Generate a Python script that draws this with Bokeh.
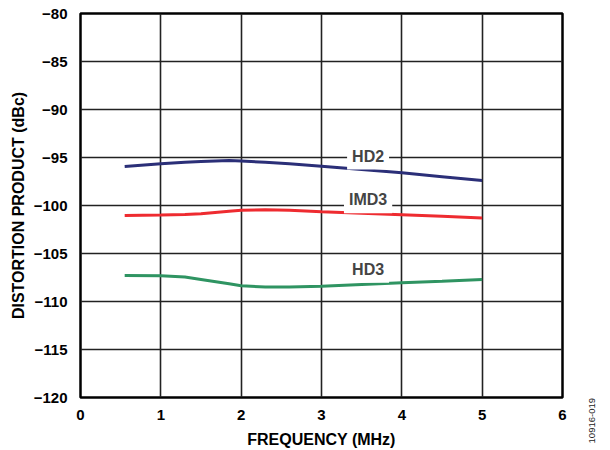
from bokeh.plotting import figure
from bokeh.models import Label, FixedTicker, Range1d, Div
from bokeh.layouts import row
from bokeh.embed import file_html
from bokeh.resources import INLINE

freq_mhz = [0.55, 1.0, 1.3, 1.5, 1.85, 2.0, 2.3, 2.6, 3.0, 3.5, 4.0, 4.5, 5.0]
hd2 = [-95.94, -95.66, -95.5, -95.42, -95.32, -95.36, -95.5, -95.66, -95.9, -96.25, -96.6, -97.0, -97.4]
imd3 = [-101.04, -101.0, -100.95, -100.85, -100.6, -100.5, -100.45, -100.5, -100.65, -100.8, -100.97, -101.13, -101.3]
hd3 = [-107.3, -107.32, -107.45, -107.7, -108.15, -108.35, -108.5, -108.5, -108.4, -108.22, -108.05, -107.88, -107.7]

x_ticks = [0, 1, 2, 3, 4, 5, 6]
y_ticks = [-120, -115, -110, -105, -100, -95, -90, -85, -80]
y_tick_labels = ["\u2212120", "\u2212115", "\u2212110", "\u2212105", "\u2212100", "\u221295", "\u221290", "\u221285", "\u221280"]

series_names = ["HD2", "IMD3", "HD3"]
series_colors = ["#2B2F78", "#EE2B30", "#2F9462"]
label_pos = [(3.58, -94.85), (3.58, -99.4), (3.58, -106.65)]

figure_id = "10916-019"

FONT = "Liberation Sans"

p = figure(width=580, height=450, output_backend="svg", toolbar_location=None,
           x_range=Range1d(0, 6), y_range=Range1d(-120, -80),
           min_border_left=80, min_border_right=18, min_border_top=13, min_border_bottom=52)

p.outline_line_color = "black"
p.outline_line_width = 2.5

for ax in (p.xaxis, p.yaxis):
    ax.axis_line_color = None
    ax.major_tick_line_color = None
    ax.minor_tick_line_color = None
    ax.major_label_text_font = FONT
    ax.major_label_text_font_style = "bold"
    ax.major_label_text_font_size = "15px"
    ax.major_label_text_color = "black"
    ax.axis_label_text_font = FONT
    ax.axis_label_text_font_style = "bold"
    ax.axis_label_text_font_size = "16px"
    ax.axis_label_text_color = "black"

p.xaxis.ticker = FixedTicker(ticks=x_ticks)
p.yaxis.ticker = FixedTicker(ticks=y_ticks)
p.yaxis.major_label_overrides = {t: l for t, l in zip(y_ticks, y_tick_labels)}
p.xaxis.axis_label = "FREQUENCY (MHz)"
p.yaxis.axis_label = "DISTORTION PRODUCT (dBc)"
p.xaxis.major_label_standoff = 6
p.yaxis.major_label_standoff = 7
p.xaxis.axis_label_standoff = 8
p.yaxis.axis_label_standoff = 4

for g in (p.xgrid, p.ygrid):
    g.grid_line_color = "#222222"
    g.grid_line_width = 1.6

for ys, c in zip([hd2, imd3, hd3], series_colors):
    p.line(freq_mhz, ys, line_color=c, line_width=3)

for name, (lx, ly) in zip(series_names, label_pos):
    p.add_layout(Label(x=lx, y=ly, text=name, text_font=FONT, text_font_style="bold",
                       text_font_size="16px", text_align="center", text_baseline="middle",
                       background_fill_color="white", background_fill_alpha=1.0,
                       padding=5))

side = Div(text=('<div style="position:absolute; left:5px; top:398px; writing-mode:vertical-rl; '
                 'transform:rotate(180deg); font-family:\'Liberation Sans\'; font-size:9.5px; '
                 'color:#222; white-space:nowrap;">' + figure_id + '</div>'),
           width=26, height=450, margin=0, styles={"overflow": "visible"})

layout = row(p, side, spacing=0)

open("out.html", "w").write(file_html(layout, INLINE))
